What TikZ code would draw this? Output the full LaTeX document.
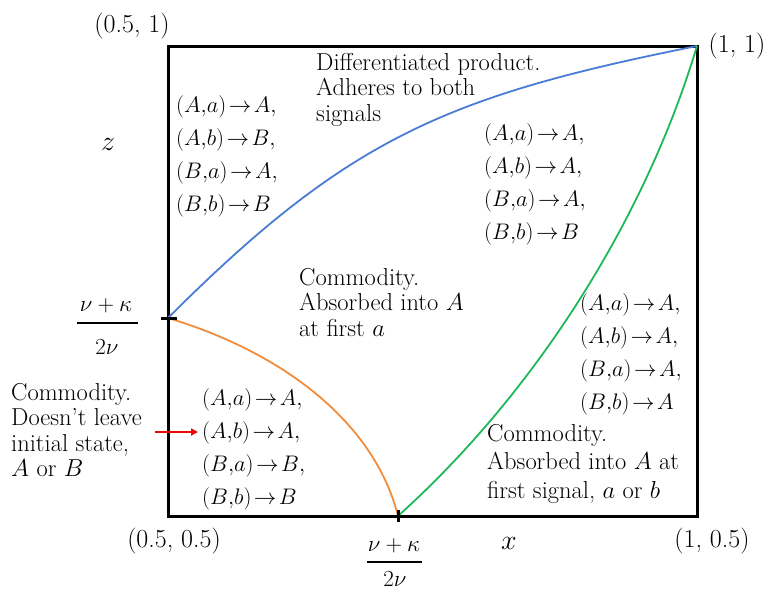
\RequirePackage{fix-cm}
\documentclass[tikz,border=0pt]{standalone}
\usepackage{fontspec}
\usetikzlibrary{arrows.meta}
\definecolor{cblue}{RGB}{74,124,214}
\definecolor{corange}{RGB}{240,140,60}
\definecolor{cgreen}{RGB}{30,184,90}
\definecolor{cred}{RGB}{235,10,10}
\begin{document}
\begin{tikzpicture}[x=1pt,y=-1pt,
  frame/.style={line width=3pt,line join=miter},
  curve/.style={line width=1.8pt},
  tick/.style={line width=3pt},
  txt/.style={inner sep=0pt,anchor=north west,align=left,font=\fontsize{24.5}{25.5}\selectfont},
  rules/.style={inner sep=0pt,anchor=north west,align=left,font=\fontsize{22.5}{33}\selectfont},
  lbl/.style={inner sep=0pt,font=\fontsize{26}{26}\selectfont},
  mth/.style={inner sep=0pt,font=\fontsize{23}{25}\selectfont},
  axl/.style={inner sep=0pt,font=\fontsize{28}{28}\selectfont}]
\useasboundingbox (0,0) rectangle (776,592);
% frame
\coordinate (TL) at (168,46);
\coordinate (TR) at (697,46);
\coordinate (BR) at (697,516);
\coordinate (BL) at (168,516);
\coordinate (L) at (168,318);
\coordinate (B) at (398,516);
\draw[frame] (TL) -- (TR) -- (BR) -- (BL) -- cycle;
% curves
\draw[curve,cblue] (L) .. controls (348,138) and (447,96) .. (TR);
\draw[curve,corange] (L) .. controls (288,354) and (375.5,426) .. (B);
\draw[curve,cgreen] (B) .. controls (538,390) and (646,216) .. (TR);
% ticks
\coordinate (Lt1) at (161,318); \coordinate (Lt2) at (177,318);
\coordinate (Bt1) at (398,510); \coordinate (Bt2) at (398,522);
\draw[tick] (Lt1) -- (Lt2);
\draw[tick] (Bt1) -- (Bt2);
% corner labels
\node[lbl] (c1) at (132,26) {(0.5, 1)};
\node[lbl] (c2) at (737,46) {(1, 1)};
\node[lbl] (c3) at (174,541) {(0.5, 0.5)};
\node[lbl] (c4) at (712,541) {(1, 0.5)};
\node[axl] (xl) at (509,543) {$x$};
\node[axl] (zl) at (108,144) {$z$};
% left fraction
\node[mth] (fn1) at (106,306) {$\nu+\kappa$};
\coordinate (fb1a) at (77,323); \coordinate (fb1b) at (138,323);
\draw[line width=1.2pt] (fb1a) -- (fb1b);
\node[mth] (fd1) at (107,347) {$2\nu$};
% bottom fraction
\node[mth] (fn2) at (394,546) {$\nu+\kappa$};
\coordinate (fb2a) at (367,562); \coordinate (fb2b) at (422,562);
\draw[line width=1.2pt] (fb2a) -- (fb2b);
\node[mth] (fd2) at (395,579) {$2\nu$};
% text blocks
\node[txt] (t1) at (316,53) {Differentiated product.\\Adheres to both\\signals};
\node[txt] (t2) at (299,268) {Commodity.\\Absorbed into $A$\\at first $a$};
\node[txt,font=\fontsize{24.5}{28.5}\selectfont] (t3) at (487,424) {Commodity.\\Absorbed into $A$ at\\first signal, $a$ or $b$};
\node[txt] (t4) at (11,383) {Commodity.\\Doesn't leave\\initial state,\\$A$ or $B$};
% rule lists
\node[rules] (r1) at (176,95) {$(A{,}a)\!\to\! A,$\\$(A{,}b)\!\to\! B,$\\$(B{,}a)\!\to\! A,$\\$(B{,}b)\!\to\! B$};
\node[rules] (r2) at (484,123) {$(A{,}a)\!\to\! A,$\\$(A{,}b)\!\to\! A,$\\$(B{,}a)\!\to\! A,$\\$(B{,}b)\!\to\! B$};
\node[rules] (r3) at (580,293) {$(A{,}a)\!\to\! A,$\\$(A{,}b)\!\to\! A,$\\$(B{,}a)\!\to\! A,$\\$(B{,}b)\!\to\! A$};
\node[rules] (r4) at (202,388) {$(A{,}a)\!\to\! A,$\\$(A{,}b)\!\to\! A,$\\$(B{,}a)\!\to\! B,$\\$(B{,}b)\!\to\! B$};
% red arrow
\coordinate (ra) at (155,432);
\coordinate (rb) at (198,432);
\draw[cred,line width=1.8pt,-{Triangle[length=7pt,width=7pt]}] (ra) -- (rb);
\end{tikzpicture}
\end{document}
